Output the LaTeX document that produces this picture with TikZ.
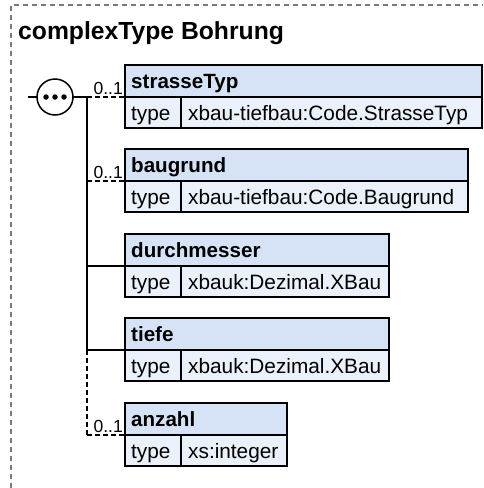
\documentclass[tikz,border=0pt]{standalone}
\usepackage{fontspec}
\setmainfont{Liberation Sans}
\definecolor{hdrc}{HTML}{D6E3F7}
\definecolor{rowc}{HTML}{EAF1FB}
\definecolor{framec}{HTML}{7A7A7A}
\newcommand\xsdbox[5]{%
  \node[hdr, minimum width={#3pt-125pt}] (#1) at (125,#2) {};
  \node[cellk] (#1k) at (125,{#2+32}) {};
  \node[cellv, minimum width={#3pt-181pt}] (#1v) at (181,{#2+32}) {};
  \node[hdrtxt] (#1t) at (131,{#2+23}) {#4};
  \node[rowtxt] (#1kt) at (131,{#2+55}) {type};
  \node[rowtxt] (#1vt) at (188,{#2+55}) {#5};
}
\begin{document}
\begin{tikzpicture}[x=1pt,y=-1pt,
  hdr/.style={draw=black, line width=1.4pt, fill=hdrc, minimum height=32pt, anchor=north west, inner sep=0pt, outer sep=0pt},
  cellk/.style={draw=black, line width=1.4pt, fill=rowc, minimum height=31pt, minimum width=56pt, anchor=north west, inner sep=0pt, outer sep=0pt},
  cellv/.style={draw=black, line width=1.4pt, fill=rowc, minimum height=31pt, anchor=north west, inner sep=0pt, outer sep=0pt},
  hdrtxt/.style={anchor=base west, inner sep=0pt, font=\fontsize{20.6}{24}\selectfont\bfseries},
  rowtxt/.style={anchor=base west, inner sep=0pt, font=\fontsize{20.8}{24}\selectfont},
  mult/.style={anchor=base east, inner sep=0pt, font=\fontsize{17.5}{20}\selectfont},
  conn/.style={draw=black, line width=1.3pt},
  dashconn/.style={conn, dash pattern=on 5pt off 3pt},
  seqsym/.style={circle, draw=black, line width=1.5pt, fill=white, minimum size=36pt, inner sep=0pt},
  dotsym/.style={circle, fill=black, minimum size=5.5pt, inner sep=0pt}]
\useasboundingbox (0,0) rectangle (483,488);
% outer frame
\coordinate (fb) at (11,488);
\coordinate (fc) at (11,5);
\coordinate (fr) at (483,5);
\draw[draw=framec, line width=1.2pt, dash pattern=on 5pt off 4pt] (fb) -- (fc) -- (fr);
\node[anchor=base west, inner sep=0pt, font=\fontsize{24.7}{28}\selectfont\bfseries] (title) at (18,39) {complexType Bohrung};
% sequence symbol
\coordinate (in) at (28,97);
\coordinate (v1) at (87,97);
\coordinate (v4) at (87,350);
\coordinate (v5) at (87,435);
\coordinate (v2) at (87,181);
\coordinate (v3) at (87,266);
\draw[conn] (in) -- (v1);
\node[seqsym] (seq) at (55,97) {};
\node[dotsym] (d1) at (46,97) {};
\node[dotsym] (d2) at (55,97) {};
\node[dotsym] (d3) at (64,97) {};
% boxes
\xsdbox{strasseTyp}{65}{482}{strasseTyp}{xbau-tiefbau:Code.StrasseTyp}
\xsdbox{baugrund}{149}{468}{baugrund}{xbau-tiefbau:Code.Baugrund}
\xsdbox{durchmesser}{234}{389}{durchmesser}{xbauk:Dezimal.XBau}
\xsdbox{tiefe}{318}{389}{tiefe}{xbauk:Dezimal.XBau}
\xsdbox{anzahl}{403}{287}{anzahl}{xs:integer}
% connectors
\draw[conn] (v1) -- (v4);
\draw[dashconn] (v4) -- (v5);
\draw[dashconn] (v1) -- (strasseTyp.south west);
\draw[dashconn] (v2) -- (baugrund.south west);
\draw[conn] (v3) -- (durchmesser.south west);
\draw[conn] (v4) -- (tiefe.south west);
\draw[dashconn] (v5) -- (anzahl.south west);
% multiplicities
\node[mult] (m1) at (123,94) {0..1};
\node[mult] (m2) at (123,178) {0..1};
\node[mult] (m5) at (123,432) {0..1};
\end{tikzpicture}
\end{document}
